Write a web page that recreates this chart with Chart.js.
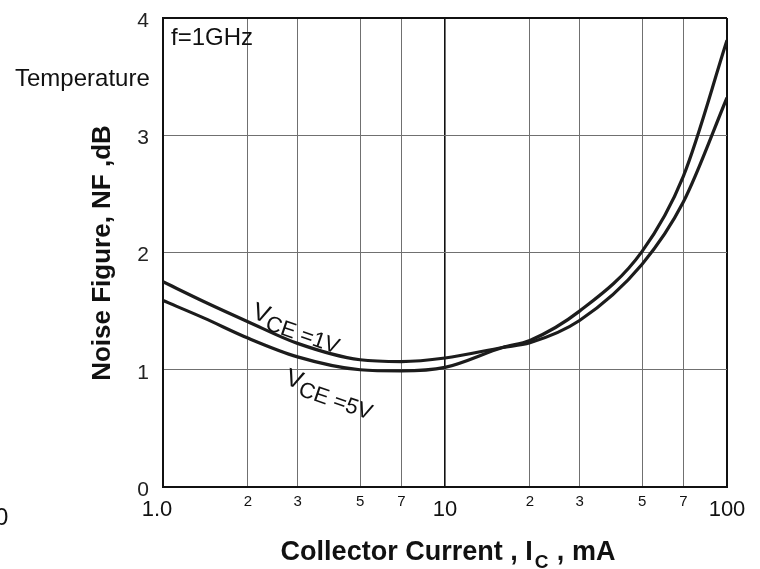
<!DOCTYPE html>
<html>
<head>
<meta charset="utf-8">
<script src="https://cdn.jsdelivr.net/npm/chart.js@4/dist/chart.umd.min.js"></script>
<style>
  html, body { margin: 0; padding: 0; background: #fff; }
  #wrap { width: 760px; height: 569px; position: relative; }
</style>
</head>
<body>
<div id="wrap"><canvas id="nfChart"></canvas></div>
<script>
// Collector current (mA) sample points
const currents = [1, 1.4, 2, 3, 5, 7, 10, 16, 20, 30, 50, 70, 100];
// Noise figure (dB) for each bias
const nfVce1 = [1.75, 1.58, 1.41, 1.225, 1.085, 1.07, 1.10, 1.19, 1.23, 1.42, 1.90, 2.43, 3.32];
const nfVce5 = [1.59, 1.44, 1.27, 1.11, 1.00, 0.99, 1.02, 1.19, 1.25, 1.50, 2.01, 2.65, 3.81];

// Grid positions and tick texts on the log axis
const xTickValues = [1, 2, 3, 5, 7, 10, 20, 30, 50, 70, 100];
const xTickLabels = ['1.0', '2', '3', '5', '7', '10', '2', '3', '5', '7', '100'];
const xMajorTicks = [1, 10, 100];

const FONT = 'Arial, "Liberation Sans", sans-serif';

function toPoints(ys) {
    return currents.map((c, i) => ({ x: c, y: ys[i] }));
}

// Texts drawn on top: tick labels of the x axis, titles, notes, curve labels
const textPlugin = {
    id: 'texts',
    afterDraw(chart) {
        const ctx = chart.ctx;
        const xs = chart.scales.x;
        ctx.save();
        ctx.fillStyle = '#111';
        ctx.textAlign = 'center';
        ctx.textBaseline = 'middle';
        xTickValues.forEach((v, i) => {
            const px = xs.getPixelForValue(v);
            if (xMajorTicks.includes(v)) {
                ctx.font = '22px ' + FONT;
                ctx.fillText(xTickLabels[i], v === 1 ? px - 6 : px, 510);
            } else {
                ctx.font = '15px ' + FONT;
                ctx.fillText(xTickLabels[i], px, 502);
            }
        });

        // x title with subscript
        ctx.textAlign = 'left';
        ctx.textBaseline = 'alphabetic';
        const p1 = 'Collector Current , I';
        const p2 = 'C';
        const p3 = ' , mA';
        ctx.font = 'bold 27px ' + FONT;
        const w1 = ctx.measureText(p1).width;
        const w3 = ctx.measureText(p3).width;
        ctx.font = 'bold 19px ' + FONT;
        const w2 = ctx.measureText(p2).width;
        const sx = 448 - (w1 + w2 + w3 + 3) / 2;
        ctx.font = 'bold 27px ' + FONT;
        ctx.fillText(p1, sx, 560);
        ctx.font = 'bold 19px ' + FONT;
        ctx.fillText(p2, sx + w1 + 2, 568);
        ctx.font = 'bold 27px ' + FONT;
        ctx.fillText(p3, sx + w1 + w2 + 3, 560);

        // y title
        ctx.save();
        ctx.translate(103, 253);
        ctx.rotate(-Math.PI / 2);
        ctx.textAlign = 'center';
        ctx.textBaseline = 'middle';
        ctx.font = 'bold 26px ' + FONT;
        ctx.fillText('Noise Figure, NF ,dB', 0, 0);
        ctx.restore();

        // notes
        ctx.font = '24px ' + FONT;
        ctx.textAlign = 'left';
        ctx.textBaseline = 'middle';
        ctx.fillText('f=1GHz', 171, 38);
        ctx.fillText('Temperature', 15, 79);
        ctx.fillText('0', -5, 518);

        // curve labels
        const drawVce = (x, y, tail) => {
            ctx.save();
            ctx.translate(x, y);
            ctx.rotate(19 * Math.PI / 180);
            ctx.textBaseline = 'alphabetic';
            ctx.font = '25px ' + FONT;
            ctx.fillText('V', 0, 0);
            ctx.font = '22px ' + FONT;
            ctx.fillText('CE =' + tail, 16, 6);
            ctx.restore();
        };
        drawVce(251, 318, '1V');
        drawVce(284, 384, '5V');
        ctx.restore();
    }
};

const ctx = document.getElementById('nfChart').getContext('2d');
const chart = new Chart(ctx, {
    type: 'scatter',
    data: {
        datasets: [
            { label: 'VCE=1V', data: toPoints(nfVce1) },
            { label: 'VCE=5V', data: toPoints(nfVce5) }
        ]
    },
    options: {
        responsive: true,
        maintainAspectRatio: false,
        animation: false,
        layout: { padding: { left: 0, right: 33, top: 18, bottom: 0 } },
        showLine: true,
        elements: {
            point: { radius: 0 },
            line: { borderColor: '#1c1c1c', borderWidth: 3.2, cubicInterpolationMode: 'monotone' }
        },
        plugins: {
            legend: { display: false },
            tooltip: { enabled: false }
        },
        scales: {
            x: {
                type: 'logarithmic',
                min: 1,
                max: 100,
                afterBuildTicks: s => { s.ticks = xTickValues.map(v => ({ value: v })); },
                afterFit: s => { s.height = 82; s.paddingLeft = 0; s.paddingRight = 0; },
                ticks: { display: false },
                border: { color: '#111', width: 2 },
                grid: {
                    drawTicks: false,
                    color: c => (c.tick && (c.tick.value === 10 || c.tick.value === 100)) ? '#111' : '#707070',
                    lineWidth: c => (c.tick && c.tick.value === 100) ? 2 : (c.tick && c.tick.value === 10 ? 1.6 : 1)
                }
            },
            y: {
                min: 0,
                max: 4,
                afterFit: s => { s.width = 163; s.paddingTop = 0; s.paddingBottom = 0; },
                ticks: {
                    stepSize: 1,
                    padding: 14,
                    labelOffset: 3,
                    color: '#222',
                    font: { family: FONT, size: 21 }
                },
                border: { color: '#111', width: 2 },
                grid: {
                    drawTicks: false,
                    color: c => (c.tick && c.tick.value === 4) ? '#111' : '#707070',
                    lineWidth: c => (c.tick && c.tick.value === 4) ? 2 : 1
                }
            }
        }
    },
    plugins: [textPlugin]
});
</script>
</body>
</html>
